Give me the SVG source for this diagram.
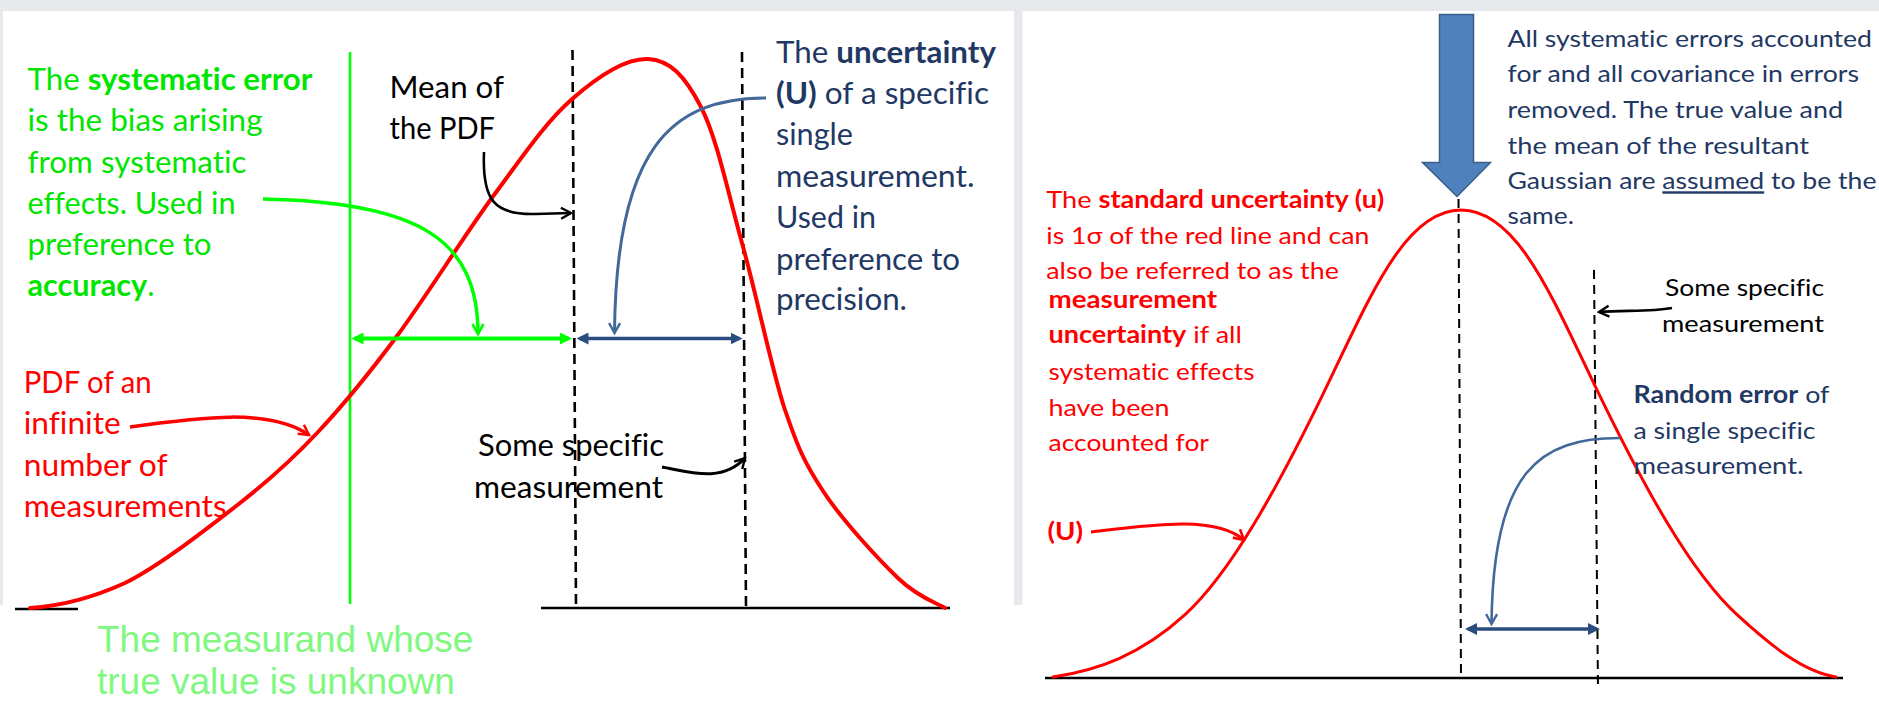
<svg xmlns="http://www.w3.org/2000/svg" width="1879" height="703" viewBox="0 0 1879 703">
<defs>
<style>
text{font-family:Lato,'Open Sans','Noto Sans',sans-serif;font-variant-ligatures:none;font-feature-settings:"liga" 0,"clig" 0,"dlig" 0}
.b{font-weight:bold}
.lg{fill:#00e600;font-size:30px}
.lb{fill:#1f3864;font-size:30px}
.lk{fill:#000;font-size:30px}
.lr{fill:#ff0000;font-size:30px}
.rb{fill:#1f3864;font-size:24px}
.rr{fill:#ff0000;font-size:24px}
.rk{fill:#000;font-size:23px}
.meas{fill:#80f880;font-family:'Liberation Sans',Arial,sans-serif;font-size:37px}
.dash{stroke:#000;stroke-width:2.6;stroke-dasharray:10 6;fill:none}
.dash2{stroke:#000;stroke-width:2;stroke-dasharray:9 6;fill:none}
.base{stroke:#000;stroke-width:2.6;fill:none}
.pdf{stroke:#ff0000;fill:none;stroke-linecap:round}
</style>
<marker id="fG" viewBox="0 0 12 12" refX="9" refY="6" markerWidth="12" markerHeight="12" markerUnits="userSpaceOnUse" orient="auto-start-reverse"><path d="M0,0 L12,6 L0,12 z" fill="#00ff00"/></marker>
<marker id="fB" viewBox="0 0 12 12" refX="9" refY="6" markerWidth="12" markerHeight="12" markerUnits="userSpaceOnUse" orient="auto-start-reverse"><path d="M0,0 L12,6 L0,12 z" fill="#2b4c7e"/></marker>
<marker id="vG" viewBox="0 0 14 14" refX="12" refY="7" markerWidth="14" markerHeight="14" markerUnits="userSpaceOnUse" orient="auto"><path d="M2,1.5 L12,7 L2,12.5" fill="none" stroke="#00ff00" stroke-width="2.6"/></marker>
<marker id="vB" viewBox="0 0 14 14" refX="12" refY="7" markerWidth="14" markerHeight="14" markerUnits="userSpaceOnUse" orient="auto"><path d="M2,1.5 L12,7 L2,12.5" fill="none" stroke="#42699a" stroke-width="2.4"/></marker>
<marker id="vK" viewBox="0 0 14 14" refX="12" refY="7" markerWidth="14" markerHeight="14" markerUnits="userSpaceOnUse" orient="auto"><path d="M2,1.5 L12,7 L2,12.5" fill="none" stroke="#000" stroke-width="2.4"/></marker>
<marker id="vR" viewBox="0 0 14 14" refX="12" refY="7" markerWidth="14" markerHeight="14" markerUnits="userSpaceOnUse" orient="auto"><path d="M2,1.5 L12,7 L2,12.5" fill="none" stroke="#ff0000" stroke-width="2.6"/></marker>
</defs>

<rect width="1879" height="703" fill="#ffffff"/>
<rect x="0" y="0" width="1879" height="11" fill="#e8e9ec"/>
<rect x="0" y="0" width="3" height="605" fill="#e8e9ec"/>
<rect x="1014" y="0" width="8.5" height="605" fill="#e8e9ec"/>

<g id="left-axes">
<line class="base" x1="15" y1="609" x2="78" y2="609"/>
<line class="base" x1="541" y1="608" x2="950" y2="608"/>
<line x1="350" y1="52" x2="350" y2="604" stroke="#00ff00" stroke-width="2.6"/>
<line class="dash" x1="572.5" y1="50" x2="576" y2="607"/>
<line class="dash" x1="742" y1="52" x2="746" y2="608"/>
</g>

<g id="left-pdf">
<path class="pdf" stroke-width="4" d="M30,608 C62,606 92,598 125,583 C160,565.5 208,528 240,503 C272,478 292,459.8 318,432 C344,404.2 367.7,375.5 397,336 C426.3,296.5 464.7,234.5 494,195 C523,156 545,123 571,100 C597,77 626,58 648,59 C670,60 685,76 701,107 C717,138 728,193 742,243 C756,293 771,366 784,407 C798,448 804,462 823,491 C842,520 879,560 899,579 C919,598 937,603 945,608"/>
</g>

<g id="left-text-systematic">
<text class="lg" x="27.5" y="90" textLength="285" lengthAdjust="spacingAndGlyphs">The <tspan class="b">systematic error</tspan></text>
<text class="lg" x="27.5" y="131" textLength="235" lengthAdjust="spacingAndGlyphs">is the bias arising</text>
<text class="lg" x="27.5" y="172.5" textLength="219" lengthAdjust="spacingAndGlyphs">from systematic</text>
<text class="lg" x="27.5" y="213.5" textLength="208" lengthAdjust="spacingAndGlyphs">effects.  Used in</text>
<text class="lg" x="27.5" y="255" textLength="184" lengthAdjust="spacingAndGlyphs">preference to</text>
<text class="lg" x="27.5" y="296" textLength="127" lengthAdjust="spacingAndGlyphs"><tspan class="b">accuracy</tspan>.</text>
</g>

<g id="left-text-mean">
<text class="lk" x="389.5" y="98" textLength="114.5" lengthAdjust="spacingAndGlyphs">Mean of</text>
<text class="lk" x="389.5" y="139" textLength="105.5" lengthAdjust="spacingAndGlyphs">the PDF</text>
</g>

<g id="left-text-pdf">
<text class="lr" x="23.7" y="393" textLength="128" lengthAdjust="spacingAndGlyphs">PDF of an</text>
<text class="lr" x="23.7" y="434" textLength="97" lengthAdjust="spacingAndGlyphs">infinite</text>
<text class="lr" x="23.7" y="475.5" textLength="144" lengthAdjust="spacingAndGlyphs">number of</text>
<text class="lr" x="23.7" y="517" textLength="203" lengthAdjust="spacingAndGlyphs">measurements</text>
</g>

<g id="left-text-some">
<text class="lk" x="478" y="456" textLength="186" lengthAdjust="spacingAndGlyphs">Some specific</text>
<text class="lk" x="474" y="498" textLength="189" lengthAdjust="spacingAndGlyphs">measurement</text>
</g>

<g id="left-text-uncertainty">
<text class="lb" x="776" y="63" textLength="220" lengthAdjust="spacingAndGlyphs">The <tspan class="b">uncertainty</tspan></text>
<text class="lb" x="776" y="103.5" textLength="213" lengthAdjust="spacingAndGlyphs"><tspan class="b">(U)</tspan> of a specific</text>
<text class="lb" x="776" y="145" textLength="77" lengthAdjust="spacingAndGlyphs">single</text>
<text class="lb" x="776" y="186.5" textLength="198.5" lengthAdjust="spacingAndGlyphs">measurement.</text>
<text class="lb" x="776" y="228" textLength="100" lengthAdjust="spacingAndGlyphs">Used in</text>
<text class="lb" x="776" y="269.5" textLength="184" lengthAdjust="spacingAndGlyphs">preference to</text>
<text class="lb" x="776" y="310" textLength="131" lengthAdjust="spacingAndGlyphs">precision.</text>
</g>

<g id="left-text-measurand">
<text class="meas" x="97" y="652">The measurand whose</text>
<text class="meas" x="97" y="694">true value is unknown</text>
</g>

<g id="right-axes">
<line class="base" x1="1045" y1="678" x2="1843" y2="678"/>
<line class="dash2" x1="1458.5" y1="199" x2="1461" y2="678"/>
<line class="dash2" x1="1594" y1="270" x2="1598" y2="690"/>
</g>

<g id="right-gaussian">
<path class="pdf" stroke-width="3" d="M1053,677 C1097,670.4 1141,655.1 1185,614.7 C1231,572.5 1277,488.7 1323,394.1 C1369,299.5 1404,210 1461,210 C1518,210 1553,299.5 1599,394.1 C1645,488.7 1691,572.5 1737,614.7 C1770,645 1803,672 1836,677"/>
</g>

<g id="right-block-arrow">
<path d="M1439.5,14.5 L1473.5,14.5 L1473.5,162.5 L1490.5,162.5 L1457,196.5 L1422.5,162.5 L1439.5,162.5 Z" fill="#4f81bd" stroke="#3a5f8b" stroke-width="1.5"/>
</g>

<g id="right-text-assumption">
<text class="rb" x="1507.5" y="46.7" textLength="364.5" lengthAdjust="spacingAndGlyphs">All systematic errors accounted</text>
<text class="rb" x="1507.5" y="81.7" textLength="351.5" lengthAdjust="spacingAndGlyphs">for and all covariance in errors</text>
<text class="rb" x="1507.5" y="118.3" textLength="335.5" lengthAdjust="spacingAndGlyphs">removed. The true value and</text>
<text class="rb" x="1507.5" y="154" textLength="301.5" lengthAdjust="spacingAndGlyphs">the mean of the resultant</text>
<text class="rb" x="1507.5" y="189.3" textLength="369" lengthAdjust="spacingAndGlyphs">Gaussian are <tspan text-decoration="underline">assumed</tspan> to be the</text>
<text class="rb" x="1507.5" y="224" textLength="66.5" lengthAdjust="spacingAndGlyphs">same.</text>
</g>

<g id="right-text-standard">
<text class="rr" x="1046.3" y="208.3" textLength="338" lengthAdjust="spacingAndGlyphs">The <tspan class="b">standard uncertainty (u)</tspan></text>
<text class="rr" x="1046.3" y="244" textLength="323" lengthAdjust="spacingAndGlyphs">is 1σ of the red line and can</text>
<text class="rr" x="1046.3" y="279.3" textLength="292.5" lengthAdjust="spacingAndGlyphs">also be referred to as the</text>
<text class="rr b" x="1048.5" y="308.3" textLength="168.5" lengthAdjust="spacingAndGlyphs">measurement</text>
<text class="rr" x="1048.5" y="343.3" textLength="193.4" lengthAdjust="spacingAndGlyphs"><tspan class="b">uncertainty</tspan> if all</text>
<text class="rr" x="1048.5" y="379.7" textLength="206" lengthAdjust="spacingAndGlyphs">systematic effects</text>
<text class="rr" x="1048.5" y="415.6" textLength="121" lengthAdjust="spacingAndGlyphs">have been</text>
<text class="rr" x="1048.5" y="451" textLength="160.5" lengthAdjust="spacingAndGlyphs">accounted for</text>
</g>

<g id="right-text-U">
<text class="rr b" x="1047.4" y="540" textLength="35.6" lengthAdjust="spacingAndGlyphs">(U)</text>
</g>

<g id="right-text-some">
<text class="rk" x="1665" y="296" textLength="159" lengthAdjust="spacingAndGlyphs">Some specific</text>
<text class="rk" x="1662" y="331.7" textLength="162" lengthAdjust="spacingAndGlyphs">measurement</text>
</g>

<g id="right-text-random">
<text class="rb" x="1633.5" y="403" textLength="196" lengthAdjust="spacingAndGlyphs"><tspan class="b">Random error</tspan> of</text>
<text class="rb" x="1633.5" y="438.5" textLength="182" lengthAdjust="spacingAndGlyphs">a single specific</text>
<text class="rb" x="1633.5" y="474.4" textLength="170" lengthAdjust="spacingAndGlyphs">measurement.</text>
</g>

<g id="connectors" fill="none">
<path d="M263,199 C420,202 478,240 478,334" stroke="#00ff00" stroke-width="3.5" marker-end="url(#vG)"/>
<line x1="354.5" y1="338.5" x2="569" y2="338.5" stroke="#00ff00" stroke-width="4" marker-start="url(#fG)" marker-end="url(#fG)"/>
<path d="M484,152 C482,200 494,215 535,214 L571,213" stroke="#000" stroke-width="2.6" marker-end="url(#vK)"/>
<path d="M766,98 C670,98 616,150 614.5,333" stroke="#42699a" stroke-width="3" marker-end="url(#vB)"/>
<line x1="579.5" y1="338.5" x2="739.5" y2="338.5" stroke="#2b4c7e" stroke-width="3.5" marker-start="url(#fB)" marker-end="url(#fB)"/>
<path d="M130,427 C200,417 270,408 309,435" stroke="#ff0000" stroke-width="3.5" marker-end="url(#vR)"/>
<path d="M662,467 C690,472 722,483 745,458" stroke="#000" stroke-width="3" marker-end="url(#vK)"/>
<path d="M1091,532 C1150,525 1215,515 1244,540" stroke="#ff0000" stroke-width="3" marker-end="url(#vR)"/>
<path d="M1672,308 C1650,312 1625,310 1599,312" stroke="#000" stroke-width="2.6" marker-end="url(#vK)"/>
<path d="M1620,438 C1540,438 1493,470 1491.5,624" stroke="#42699a" stroke-width="2.6" marker-end="url(#vB)"/>
<line x1="1468" y1="629" x2="1597" y2="629" stroke="#2b4c7e" stroke-width="3.5" marker-start="url(#fB)" marker-end="url(#fB)"/>
</g>
</svg>
